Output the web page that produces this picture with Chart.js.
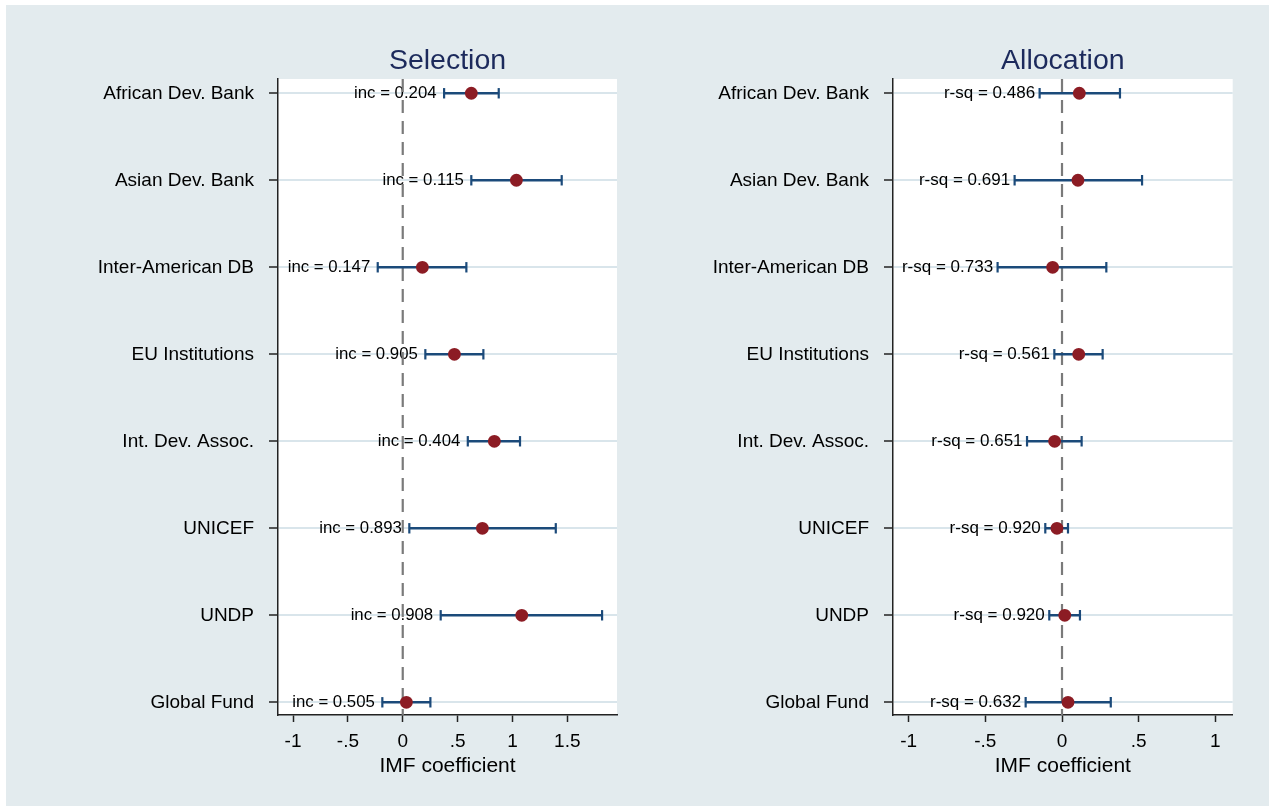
<!DOCTYPE html>
<html>
<head>
<meta charset="utf-8">
<script src="https://cdn.jsdelivr.net/npm/chart.js@4.4.0/dist/chart.umd.min.js"></script>
<style>
  html, body { margin:0; padding:0; background:#ffffff; width:1269px; height:806px; overflow:hidden; }
  #bg { position:absolute; left:6px; top:5px; right:0; bottom:0; background:#e3ebee; }
  canvas { position:absolute; top:0; }
</style>
</head>
<body>
<div id="bg"></div>
<canvas id="selChart" width="640" height="806" style="left:0px"></canvas>
<canvas id="allocChart" width="629" height="806" style="left:640px"></canvas>
<script>
// ---- Data ----
const categories = ["African Dev. Bank","Asian Dev. Bank","Inter-American DB","EU Institutions","Int. Dev. Assoc.","UNICEF","UNDP","Global Fund"];

const selCoef = [0.625, 1.036, 0.179, 0.471, 0.835, 0.726, 1.085, 0.033];
const selLo   = [0.377, 0.625, -0.228, 0.206, 0.593, 0.060, 0.346, -0.186];
const selHi   = [0.875, 1.449, 0.580, 0.735, 1.069, 1.395, 1.817, 0.252];
const selStat = ["0.204","0.115","0.147","0.905","0.404","0.893","0.908","0.505"];

const allocCoef = [0.113, 0.104, -0.061, 0.109, -0.048, -0.033, 0.018, 0.039];
const allocLo   = [-0.146, -0.309, -0.420, -0.050, -0.228, -0.109, -0.083, -0.237];
const allocHi   = [0.378, 0.522, 0.289, 0.265, 0.128, 0.039, 0.117, 0.318];
const allocStat = ["0.486","0.691","0.733","0.561","0.651","0.920","0.920","0.632"];

const selTicks = [-1, -0.5, 0, 0.5, 1, 1.5];
const selTickLabels = ["-1", "-.5", "0", ".5", "1", "1.5"];
const allocTicks = [-1, -0.5, 0, 0.5, 1];
const allocTickLabels = ["-1", "-.5", "0", ".5", "1"];

// ---- Styling ----
const FONT = '"Liberation Sans", Arial, Helvetica, sans-serif';
const TEXT = '#000000';
const NAVY = '#1c2a5c';
const BAR = '#1b4a7a';
const DOT = '#8c1c24';
const Y_MIN = 0.836, Y_MAX = 8.146;

function buildChart(canvasId, o) {
  const datasets = [];
  // markers
  datasets.push({
    type: 'scatter',
    data: o.coef.map((v, i) => ({x: v, y: i + 1})),
    pointRadius: 6.4, pointBackgroundColor: DOT, pointBorderColor: DOT, pointBorderWidth: 0,
    order: 0
  });
  // error bars
  o.lo.forEach((lo, i) => {
    datasets.push({
      type: 'line',
      data: [{x: lo, y: i + 1}, {x: o.hi[i], y: i + 1}],
      borderColor: BAR, borderWidth: 2.4,
      pointStyle: 'line', rotation: 90, pointRadius: 5.2,
      pointBorderColor: BAR, pointBorderWidth: 2.2,
      fill: false, order: 1
    });
  });
  // zero reference line
  datasets.push({
    type: 'line',
    data: [{x: 0, y: Y_MIN}, {x: 0, y: Y_MAX}],
    borderColor: '#7a7a7a', borderWidth: 2.2, borderDash: [13, 8],
    pointRadius: 0, fill: false, order: 2
  });

  const panelPlugin = {
    id: 'panel' + canvasId,
    beforeDraw(chart) {
      const {ctx, chartArea: a} = chart;
      ctx.save();
      ctx.fillStyle = '#ffffff';
      ctx.fillRect(a.left, a.top, a.right - a.left, a.bottom - a.top);
      ctx.restore();
    },
    beforeDatasetsDraw(chart) {
      const {ctx} = chart;
      const xs = chart.scales.x, ys = chart.scales.y;
      ctx.save();
      ctx.font = o.labelSize + 'px ' + FONT;
      ctx.fillStyle = TEXT;
      ctx.textAlign = 'right';
      ctx.textBaseline = 'middle';
      o.lo.forEach((lo, i) => {
        ctx.fillText(o.prefix + o.stat[i], xs.getPixelForValue(lo) - o.gap, ys.getPixelForValue(i + 1) + 0.5);
      });
      ctx.restore();
    },
    afterDraw(chart) {
      const {ctx, chartArea: a} = chart;
      ctx.save();
      ctx.font = '28.5px ' + FONT;
      ctx.fillStyle = NAVY;
      ctx.textAlign = 'center';
      ctx.textBaseline = 'alphabetic';
      ctx.fillText(o.title, (a.left + a.right) / 2, 69);
      ctx.restore();
    }
  };

  return new Chart(document.getElementById(canvasId), {
    type: 'scatter',
    data: { datasets },
    options: {
      responsive: false,
      animation: false,
      events: [],
      layout: { padding: { left: 0, right: o.padRight, top: 79, bottom: 0 } },
      plugins: { legend: { display: false }, tooltip: { enabled: false }, title: { display: false } },
      scales: {
        x: {
          type: 'linear', min: o.xMin, max: o.xMax,
          afterBuildTicks: s => { s.ticks = o.ticks.map(v => ({value: v})); },
          afterFit: s => { s.height = 91; },
          ticks: {
            autoSkip: false, padding: 8, color: TEXT,
            font: { family: FONT, size: 19 },
            callback: v => { const k = o.ticks.indexOf(v); return k >= 0 ? o.tickLabels[k] : ''; }
          },
          grid: { drawOnChartArea: false, drawTicks: true, tickLength: 7, tickColor: '#222', tickWidth: 1.5 },
          border: { display: true, color: '#222', width: 1.5 },
          title: { display: true, text: 'IMF coefficient', color: TEXT,
                   font: { family: FONT, size: 21 }, padding: { top: 0, bottom: 27 } }
        },
        y: {
          type: 'linear', reverse: true, min: Y_MIN, max: Y_MAX,
          afterBuildTicks: s => { s.ticks = categories.map((c, i) => ({value: i + 1})); },
          afterFit: s => { s.width = o.yWidth; },
          ticks: {
            autoSkip: false, padding: 15, color: TEXT,
            font: { family: FONT, size: 19 },
            callback: v => categories[Math.round(v) - 1]
          },
          grid: { color: '#d9e5eb', lineWidth: 2, drawTicks: true, tickLength: 9, tickColor: '#222', tickWidth: 1.5 },
          border: { display: true, color: '#222', width: 1.5 }
        }
      }
    },
    plugins: [panelPlugin]
  });
}

buildChart('selChart', {
  title: 'Selection', coef: selCoef, lo: selLo, hi: selHi, stat: selStat, prefix: 'inc = ',
  xMin: -1.137, xMax: 1.953, ticks: selTicks, tickLabels: selTickLabels,
  yWidth: 278, padRight: 23, labelSize: 16.8, gap: 7.5
});
buildChart('allocChart', {
  title: 'Allocation', coef: allocCoef, lo: allocLo, hi: allocHi, stat: allocStat, prefix: 'r-sq = ',
  xMin: -1.102, xMax: 1.113, ticks: allocTicks, tickLabels: allocTickLabels,
  yWidth: 253, padRight: 36.3, labelSize: 17, gap: 4.5
});
</script>
</body>
</html>
